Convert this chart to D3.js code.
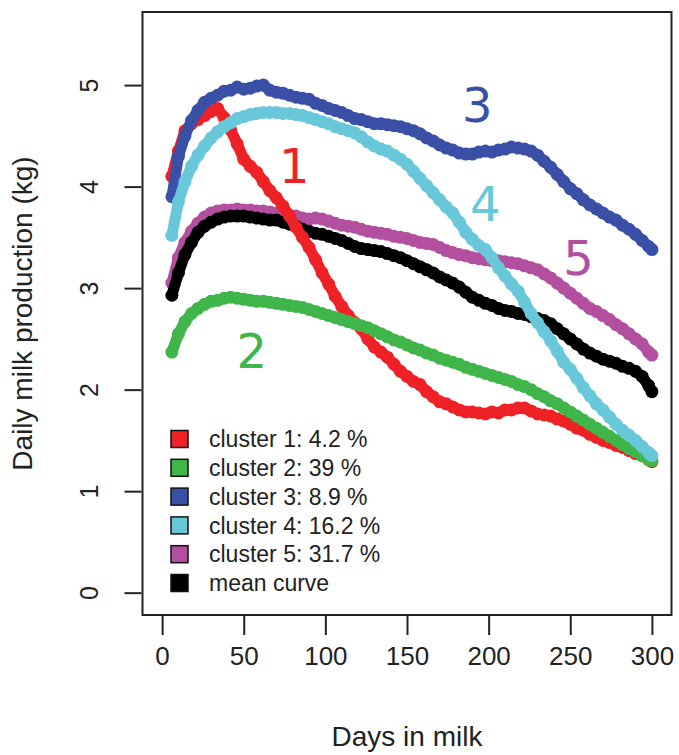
<!DOCTYPE html>
<html>
<head>
<meta charset="utf-8">
<script src="https://cdn.jsdelivr.net/npm/d3@7"></script>
<style>
  body { margin: 0; background: #fff; }
  text { font-family: "Liberation Sans", Arial, sans-serif; }
</style>
</head>
<body>
<div class="canvas"></div>
<script>
// days in milk (x values shared by all curves)
const days = [6,10,14,18,22,26,30,34,38,42,46,50,54,58,62,66,70,74,78,82,86,90,94,98,102,106,110,114,118,122,126,130,134,138,142,146,150,154,158,162,166,170,174,178,182,186,190,194,198,202,206,210,214,218,222,226,230,234,238,242,246,250,254,258,262,266,270,274,278,282,286,290,294,298,300];

const cluster1 = [4.1,4.35,4.55,4.62,4.66,4.7,4.74,4.77,4.68,4.56,4.42,4.27,4.2,4.14,4.05,3.96,3.89,3.81,3.71,3.6,3.5,3.4,3.28,3.15,3.04,2.92,2.82,2.73,2.66,2.6,2.5,2.42,2.37,2.32,2.25,2.18,2.13,2.08,2.05,1.98,1.93,1.88,1.86,1.83,1.8,1.78,1.78,1.77,1.76,1.78,1.77,1.8,1.8,1.82,1.82,1.79,1.76,1.75,1.74,1.71,1.69,1.66,1.62,1.6,1.56,1.53,1.5,1.48,1.45,1.43,1.4,1.37,1.35,1.31,1.29];
const cluster2 = [2.37,2.55,2.67,2.75,2.8,2.84,2.87,2.88,2.9,2.91,2.9,2.89,2.88,2.87,2.87,2.86,2.85,2.84,2.83,2.82,2.81,2.79,2.77,2.75,2.73,2.71,2.69,2.67,2.65,2.63,2.61,2.58,2.55,2.52,2.49,2.47,2.44,2.41,2.39,2.36,2.34,2.31,2.29,2.27,2.25,2.22,2.2,2.18,2.16,2.14,2.12,2.1,2.08,2.05,2.03,2.0,1.96,1.93,1.89,1.86,1.82,1.78,1.74,1.7,1.66,1.62,1.58,1.54,1.5,1.46,1.42,1.39,1.35,1.31,1.3];
const cluster3 = [3.9,4.3,4.5,4.65,4.75,4.83,4.87,4.9,4.94,4.95,4.98,4.96,4.97,4.99,5.0,4.95,4.93,4.92,4.9,4.88,4.87,4.86,4.82,4.8,4.77,4.75,4.73,4.7,4.67,4.66,4.64,4.62,4.62,4.61,4.6,4.59,4.57,4.55,4.52,4.48,4.45,4.41,4.38,4.36,4.33,4.32,4.32,4.34,4.35,4.34,4.36,4.37,4.39,4.38,4.37,4.35,4.31,4.25,4.19,4.12,4.05,3.98,3.93,3.87,3.82,3.78,3.74,3.7,3.67,3.62,3.58,3.53,3.47,3.41,3.38];
const cluster4 = [3.52,3.85,4.05,4.2,4.31,4.4,4.48,4.54,4.59,4.63,4.67,4.69,4.71,4.72,4.73,4.73,4.73,4.72,4.72,4.71,4.7,4.68,4.66,4.64,4.62,4.59,4.57,4.55,4.53,4.49,4.44,4.4,4.37,4.35,4.31,4.27,4.22,4.15,4.08,4.01,3.94,3.87,3.8,3.74,3.65,3.55,3.48,3.42,3.38,3.3,3.2,3.12,3.04,2.97,2.86,2.75,2.66,2.57,2.48,2.38,2.27,2.2,2.11,2.02,1.94,1.86,1.8,1.73,1.66,1.6,1.55,1.5,1.44,1.38,1.35];
const cluster5 = [3.05,3.3,3.45,3.56,3.64,3.7,3.74,3.76,3.77,3.77,3.78,3.77,3.77,3.76,3.76,3.75,3.74,3.73,3.72,3.71,3.69,3.68,3.69,3.68,3.66,3.64,3.62,3.61,3.6,3.58,3.56,3.55,3.54,3.53,3.51,3.5,3.49,3.47,3.45,3.44,3.43,3.4,3.37,3.35,3.33,3.32,3.3,3.29,3.28,3.27,3.27,3.26,3.25,3.24,3.22,3.2,3.18,3.14,3.1,3.05,3.0,2.95,2.9,2.85,2.8,2.77,2.73,2.69,2.64,2.6,2.55,2.5,2.45,2.37,2.34];
const meanCurve = [2.93,3.15,3.33,3.45,3.55,3.61,3.65,3.68,3.7,3.71,3.71,3.71,3.7,3.69,3.68,3.67,3.67,3.65,3.63,3.61,3.58,3.56,3.54,3.53,3.51,3.49,3.47,3.44,3.41,3.39,3.38,3.37,3.36,3.34,3.32,3.3,3.27,3.24,3.21,3.18,3.15,3.11,3.08,3.05,3.01,2.96,2.91,2.88,2.85,2.83,2.8,2.78,2.77,2.75,2.74,2.72,2.7,2.68,2.65,2.6,2.55,2.5,2.45,2.4,2.36,2.33,2.3,2.28,2.26,2.23,2.21,2.18,2.13,2.04,1.98];

const legendLabels = ["cluster 1: 4.2 %", "cluster 2: 39 %", "cluster 3: 8.9 %", "cluster 4: 16.2 %", "cluster 5: 31.7 %", "mean curve"];
const colours = ["#ee2226", "#3fb54a", "#3a4fa6", "#68c8da", "#b34f9f", "#000000"];
const xTicks = [0, 50, 100, 150, 200, 250, 300];
const yTicks = [0, 1, 2, 3, 4, 5];
// big cluster numbers written on the plot: [label, day, kg]
const curveTags = [["1", 81, 4.2], ["2", 55, 2.38], ["3", 193, 4.8], ["4", 198, 3.83], ["5", 255, 3.3]];

const dims = {width: 679, height: 755};
const box = {left: 142.5, right: 671.5, top: 12, bottom: 615};

const svg = d3.select('.canvas')
  .append('svg')
    .attr('width', dims.width)
    .attr('height', dims.height);

const x = d3.scaleLinear().domain([-12, 312]).range([box.left, box.right]);
const y = d3.scaleLinear().domain([-0.22, 5.72]).range([box.bottom, box.top]);

const series = [cluster1, cluster2, cluster3, cluster4, cluster5, meanCurve];
// drawing order, roughly as the overlaps look in the figure
const order = [4, 5, 0, 2, 1, 3];

const line = d3.line().x((d, i) => x(days[i])).y(d => y(d));

const curves = svg.append('g');
order.forEach(k => {
  const g = curves.append('g');
  g.append('path')
    .attr('d', line(series[k]))
    .attr('fill', 'none')
    .attr('stroke', colours[k])
    .attr('stroke-width', 11)
    .attr('stroke-linejoin', 'round')
    .attr('stroke-linecap', 'round');
  g.selectAll('circle')
    .data(series[k])
    .enter()
    .append('circle')
      .attr('cx', (d, i) => x(days[i]))
      .attr('cy', d => y(d))
      .attr('r', 6.5)
      .attr('fill', colours[k]);
});

// cluster numbers
svg.selectAll('.tag')
  .data(curveTags)
  .enter()
  .append('text')
    .attr('class', 'tag')
    .attr('x', d => x(d[1]))
    .attr('y', d => y(d[2]))
    .attr('text-anchor', 'middle')
    .attr('dominant-baseline', 'central')
    .style('font-family', '"DejaVu Sans", sans-serif')
    .style('font-size', '48px')
    .attr('fill', d => colours[+d[0] - 1])
    .text(d => d[0]);

// frame
svg.append('rect')
  .attr('x', box.left).attr('y', box.top)
  .attr('width', box.right - box.left).attr('height', box.bottom - box.top)
  .attr('fill', 'none').attr('stroke', '#222').attr('stroke-width', 2);

// x axis
const xAxis = svg.append('g')
  .attr('transform', `translate(0, ${box.bottom + 1})`)
  .call(d3.axisBottom(x).tickValues(xTicks).tickSize(19).tickPadding(12).tickSizeOuter(0));
xAxis.select('.domain').remove();
xAxis.selectAll('line').attr('stroke', '#222').attr('stroke-width', 2);
xAxis.selectAll('text').style('font-size', '26px').attr('fill', '#222').attr('font-family', null);

// y axis, labels turned like R does
const yAxis = svg.append('g')
  .attr('transform', `translate(${box.left - 1}, 0)`)
  .call(d3.axisLeft(y).tickValues(yTicks).tickFormat(d3.format('d')).tickSize(17).tickSizeOuter(0));
yAxis.select('.domain').remove();
yAxis.selectAll('line').attr('stroke', '#222').attr('stroke-width', 2);
yAxis.selectAll('text')
  .attr('x', null).attr('dy', null)
  .attr('text-anchor', 'middle')
  .attr('transform', 'translate(-52, 0) rotate(-90)')
  .attr('dy', '0.35em')
  .style('font-size', '25px').attr('fill', '#222').attr('font-family', null);

// axis titles
svg.append('text')
  .attr('x', (box.left + box.right) / 2)
  .attr('y', 746)
  .attr('text-anchor', 'middle')
  .style('font-size', '28px')
  .attr('fill', '#222')
  .text('Days in milk');

svg.append('text')
  .attr('transform', `translate(32, ${(box.top + box.bottom) / 2}) rotate(-90)`)
  .attr('text-anchor', 'middle')
  .style('font-size', '28px')
  .attr('fill', '#222')
  .text('Daily milk production (kg)');

// legend
const legend = svg.append('g').attr('transform', 'translate(171, 439)');
const rows = legend.selectAll('g')
  .data(legendLabels)
  .enter()
  .append('g')
    .attr('transform', (d, i) => `translate(0, ${i * 28.8})`);
rows.append('rect')
  .attr('x', 0).attr('y', -8.5)
  .attr('width', 17).attr('height', 17)
  .attr('fill', (d, i) => colours[i])
  .attr('stroke', '#111').attr('stroke-width', 1.5);
rows.append('text')
  .attr('x', 38)
  .attr('dy', '0.36em')
  .style('font-size', '23px')
  .attr('fill', '#222')
  .text(d => d);
</script>
</body>
</html>
